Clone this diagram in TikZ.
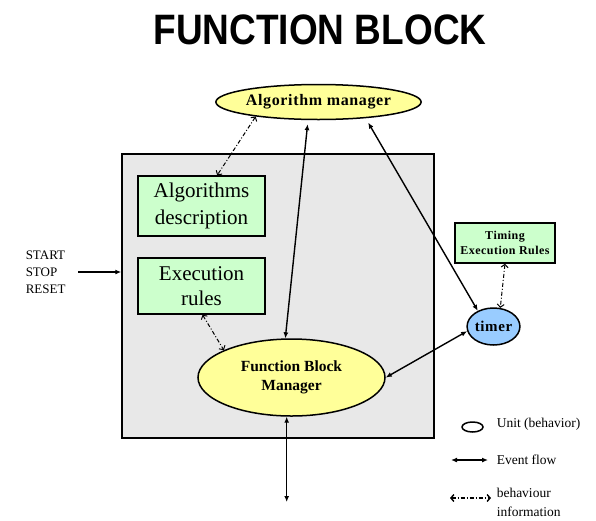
\documentclass[tikz,border=0pt]{standalone}
\usepackage{fontspec}
\setmainfont{Liberation Serif}
\newfontfamily\titlefont{Liberation Sans}
\newfontfamily\spacedfont[LetterSpace=4]{Liberation Serif}
\usetikzlibrary{arrows.meta}
\usetikzlibrary{shapes.geometric}
\definecolor{myyellow}{HTML}{FFFF99}
\definecolor{mygreen}{HTML}{CCFFCC}
\definecolor{myblue}{HTML}{99CCFF}
\definecolor{mygray}{HTML}{E8E8E8}

\begin{document}
\begin{tikzpicture}[x=1pt, y=-1pt, line width=1.5pt,
  unit/.style={ellipse, draw, inner sep=0pt, align=center, font=\bfseries\fontsize{15.5}{19}\selectfont},
  rulebox/.style={draw, fill=mygreen, inner sep=0pt, align=center},
  legend/.style={inner sep=0pt, align=left, font=\fontsize{13.5}{19}\selectfont},
  event/.style={{Latex[length=6pt,width=5pt]}-{Latex[length=6pt,width=5pt]}, line width=1.4pt},
  info/.style={{Straight Barb[length=3pt,width=7pt]}-{Straight Barb[length=3pt,width=7pt]}, line width=1pt, dash pattern=on 4pt off 2pt on 1pt off 2pt}]
\useasboundingbox (0,0) rectangle (596,520);
\node[font=\titlefont\bfseries\fontsize{37}{40}\selectfont] (title) at (320,30) {\scalebox{1}[1.15]{FUNCTION BLOCK}};
\node[draw, fill=mygray, minimum width=312, minimum height=284, inner sep=0pt] (fb) at (278,296) {};
\node[unit, fill=myyellow, minimum width=197, minimum height=35, font=\spacedfont\bfseries\fontsize{16}{19}\selectfont] (algman) at (318.5,102) {Algorithm manager};
\node[rulebox, minimum width=127, minimum height=60, font=\fontsize{21}{27}\selectfont] (algdesc) at (201.5,206) {Algorithms\\description};
\node[rulebox, minimum width=127, minimum height=56, font=\fontsize{21}{25}\selectfont] (execrules) at (201.5,286) {Execution\\rules};
\node[unit, fill=myyellow, minimum width=187, minimum height=77] (fbm) at (291.5,377.5) {Function Block\\Manager};
\node[rulebox, minimum width=100, minimum height=40, font=\spacedfont\bfseries\fontsize{12}{15}\selectfont] (timing) at (505,243) {Timing\\Execution Rules};
\node[unit, fill=myblue, minimum width=43, minimum height=37, font=\spacedfont\bfseries\fontsize{15}{18}\selectfont] (timer) at (493.5,326.5) {timer};
\node[anchor=west, inner sep=0pt, align=left, font=\fontsize{13}{17}\selectfont] (ctrl) at (25,272) {START\\STOP\\RESET};
\coordinate (out) at (287,502);

% connections
\draw[-{Latex[length=6pt,width=5pt]}, line width=1.4pt, shorten <=12pt] (ctrl.east) -- (ctrl.east -| fb.west);
\draw[info] (algman.193) -- (algdesc.63);
\draw[info] (execrules.-88) -- (fbm.158);
\draw[info] (timing.south) -- (timer.70);
\draw[event, shorten <=4pt] (algman.240) -- (fbm.99);
\draw[event, shorten <=5pt] (algman.341) -- (timer.135);
\draw[event] (fbm.0) -- (timer.190);
\draw[event] (fbm.263) -- (fbm.263 |- out);

% legend
\node[ellipse, draw, minimum width=21, minimum height=10, inner sep=0pt] (legunit) at (472.5,427) {};
\node[legend, anchor=west] (unittxt) at (496,424) {Unit (behavior)};
\coordinate (ev1) at (451,460);
\coordinate (ev2) at (488,460);
\draw[event] (ev1) -- (ev2);
\node[legend, anchor=west] (evtxt) at (496,460) {Event flow};
\coordinate (in1) at (450,498);
\coordinate (in2) at (491,498);
\draw[info, line width=1.4pt] (in1) -- (in2);
\node[legend, anchor=west] (infotxt) at (496,502) {behaviour\\information};
\end{tikzpicture}
\end{document}
